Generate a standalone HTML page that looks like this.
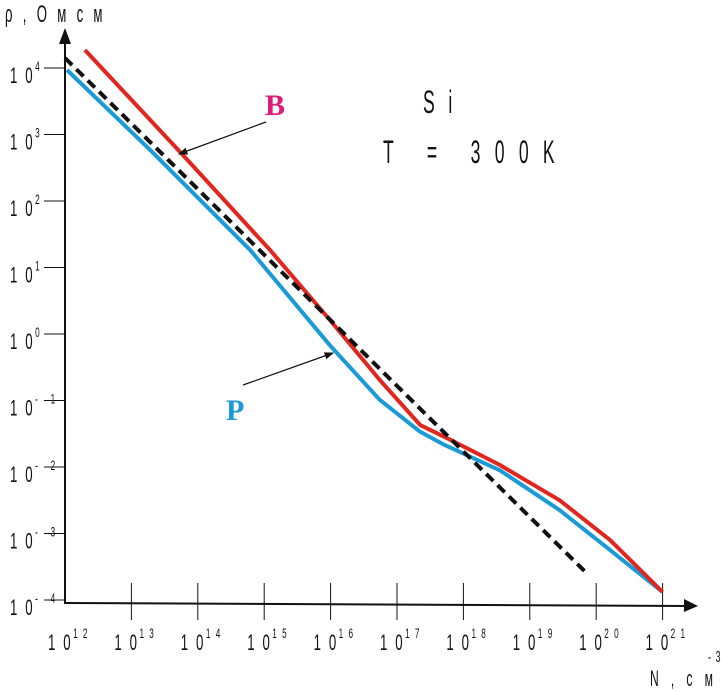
<!DOCTYPE html>
<html><head><meta charset="utf-8"><style>
html,body{margin:0;padding:0;background:#fff;}
svg{display:block;font-family:"Liberation Sans",sans-serif;}
</style></head><body>
<svg id="chart" width="722" height="692" viewBox="0 0 722 692" xmlns="http://www.w3.org/2000/svg">
<defs>
<marker id="ah" markerWidth="8" markerHeight="6" refX="7" refY="3" orient="auto"><path d="M0,0 L8,3 L0,6 Z" fill="#111"/></marker>
</defs>
<g id="axes"></g>
<g id="series"></g>
<g id="labels"></g>
</svg>
<script>
const xTickExps = [12,13,14,15,16,17,18,19,20,21];
const yTickExps = [4,3,2,1,0,-1,-2,-3,-4];
const redLogN = [12.30,13.73,15.09,15.99,16.74,17.35,17.80,18.55,19.45,20.21,21.0];
const redLogRho = [4.27,2.74,1.26,0.21,-0.69,-1.37,-1.59,-1.97,-2.50,-3.10,-3.88];
const blueLogN = [12.03,13.28,14.79,15.99,16.74,17.35,17.72,18.55,19.45,20.21,21.0];
const blueLogRho = [3.97,2.77,1.26,-0.17,-0.99,-1.47,-1.67,-2.05,-2.65,-3.25,-3.88];
const dashLogN = [12.0,19.88];
const dashLogRho = [4.15,-3.62];

const NS="http://www.w3.org/2000/svg";
const X = v => 65 + (v-12)*66.4;
const Y = v => 68 + (4-v)*66.5;
function mk(tag, parent, attrs){const e=document.createElementNS(NS,tag);for(const k in attrs)e.setAttribute(k,attrs[k]);parent.appendChild(e);return e;}
const axes=document.getElementById('axes'), series=document.getElementById('series'), labels=document.getElementById('labels');

let a=mk('line',axes,{x1:65,y1:604,x2:65,y2:38,stroke:'#111','stroke-width':2});


mk('path',axes,{d:'M59,44 L65,28 L71,44 Z',fill:'#111'});
a=mk('line',axes,{x1:65,y1:603,x2:688,y2:606,stroke:'#111','stroke-width':2});


mk('path',axes,{d:'M684,599 L698,606 L684,612 Z',fill:'#111'});

function label(parent,x,y,base,sup,size,name){
  const g=mk('g',parent,{transform:`translate(${x},${y}) scale(0.6,1)`});
  
  
  const t=mk('text',g,{x:0,y:0,'font-size':size,'letter-spacing':size*0.6,fill:'#111'});
  t.textContent=base;
  const s=mk('text',g,{x:size*1.9,y:-size*0.55,'font-size':size*0.62,'letter-spacing':size*0.4,fill:'#111'});
  s.textContent=sup;
}
xTickExps.forEach(e=>{
  const x=X(e);
  if(e>12){const t=mk('line',axes,{x1:x,y1:583,x2:x,y2:620,stroke:'#111','stroke-width':1});
  
  }
  label(labels,x-17,650,'10',String(e),22,'x-tick-label');
});
yTickExps.forEach(e=>{
  const y=Y(e);
  const t=mk('line',axes,{x1:44,y1:y,x2:65,y2:y,stroke:'#111','stroke-width':1});
  
  
  label(labels,10,y+15,'10',e<0?'- '+(-e):String(e),22,'y-tick-label');
});

function line(xs,ys,attrs,name){
  const d=xs.map((v,i)=>(i?'L':'M')+X(v).toFixed(1)+','+Y(ys[i]).toFixed(1)).join(' ');
  const p=mk('path',series,Object.assign({d:d,fill:'none','stroke-linejoin':'round'},attrs));
  
  
}
line(blueLogN,blueLogRho,{stroke:'#1a9ad6','stroke-width':4},'series-p');
line(redLogN,redLogRho,{stroke:'#e0261e','stroke-width':4},'series-b');
line(dashLogN,dashLogRho,{stroke:'#111','stroke-width':4,'stroke-dasharray':'10,6'},'dashed-fit');

let t;
t=mk('text',labels,{x:265,y:115,'font-size':30,'font-weight':'bold','font-family':'Liberation Serif,serif',fill:'#e0197d'});
t.textContent='B';


t=mk('text',labels,{x:226,y:420,'font-size':30,'font-weight':'bold','font-family':'Liberation Serif,serif',fill:'#1a9ad6'});
t.textContent='P';


a=mk('line',labels,{x1:266,y1:122,x2:179,y2:154,stroke:'#111','stroke-width':1.2,'marker-end':'url(#ah)'});


a=mk('line',labels,{x1:243,y1:385,x2:333,y2:353,stroke:'#111','stroke-width':1.2,'marker-end':'url(#ah)'});



function cond(x,y,txt,size,ls,name){
  const g=mk('g',labels,{transform:`translate(${x},${y}) scale(0.55,1)`});
  
  
  const t=mk('text',g,{x:0,y:0,'font-size':size,'letter-spacing':ls,fill:'#111'});
  t.textContent=txt;
}
cond(423,113,'S i',32,8,'material-label');
cond(383,163,'T = 300K',32,26,'temperature-label');
cond(5,22,'ρ , О м с м',24,6,'y-axis-title');
cond(650,686,'N , с м',22,8,'x-axis-title');
cond(708,662,'- 3',16,2,'x-axis-title-exp');
</script>
</body></html>
